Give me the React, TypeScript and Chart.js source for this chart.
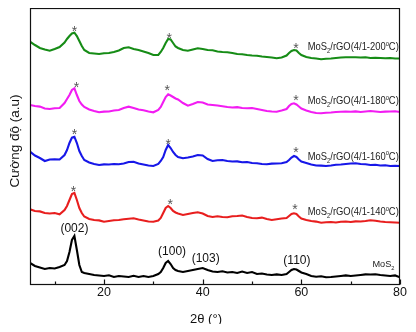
import React, { useEffect, useRef } from "react";
import { Chart, registerables } from "chart.js";
Chart.register(...registerables);

// 2θ positions (degrees)
const X = [5,6,7,8,9,10,11,12,12.5,13,13.5,14,14.5,15,15.5,16,17,18,19,20,21,22,23,24,25,26,27,28,29,30,31,31.5,32,32.5,33,33.5,34,34.5,35,36,37,38,39,40,41,42,43,44,45,46,47,48,49,50,51,52,53,54,55,56,57,57.5,58,58.5,59,59.5,60,61,62,63,64,65,66,67,68,69,70,71,72,73,74,75,76,77,78,79,80];

// Intensities (a.u., stacked with offsets as in the figure)
const MOS2 = [21,18,16.5,15,16,15.5,17,19,23,32,44,48,34,19,12,11,10,9,8.5,8,8.7,7,8,7.5,7,8.2,7,8,7,8,10,12,16,21,23,20,16,14,13,12,13,14,15,16,14,12.5,12,12.7,11.5,12,11,12.5,11,12,10,10.5,9.5,9,9.6,9,10,12,14,15,14.5,13,11.5,10,8,7.3,7.8,6.7,7,7.5,8,8.6,8,8.5,9,9.6,9.5,9.7,9,8.5,8,8.6,6.7];
const T140 = [74.7,73,72.6,71,70.5,71,69.7,74,78,84,90,91,84,76,71,67.5,65,64,63.6,62.3,63,63.8,64,64.7,65.3,65.7,64.5,63.5,62.5,62.3,63.5,66,71,76,78,76,73,71.5,70.5,69,70,71,71.7,70.5,68,67,67.8,67,66.7,67.8,68,68.5,67,66,65.7,66.4,65,64,64.8,65.5,66,68,70,70.7,70,67.5,65.5,64,63,62.4,61.3,61.8,62,61.5,62.3,62.5,62,62.6,62.5,63,63.7,63.3,62.5,62,61.8,61.5,61.3];
const T160 = [132.3,128.5,126,123,124.5,124.7,124.5,129,134,141,146.5,147.3,141,133,128,124,121.5,120,119,119.6,119.5,120,119.7,120.5,122,122.3,120.5,119.5,118.5,118,120,123,127,134,139,136,132,129,127,125.7,126.5,127.5,129,128.5,125,123,123.8,124,123,122.5,122.6,121.7,122,121,120.8,120,119.7,120.4,120.5,120.7,122,124,126.5,128,127,124.5,122.5,121,119.5,118.5,118.4,118,118.5,119.2,119.5,120,120.5,120.7,120,119.7,119,119.3,118.5,118.8,118,118.3,118];
const T180 = [179,178,177.4,175.5,175,175.8,176,181,185,189,194,195.7,189,183,179.5,177,174.5,173,171.7,172.4,172.5,173.5,174,176,177.3,176,174.5,173.8,172.5,171.7,174,177,182,187,189.7,188.5,187,185.5,184.5,181,178.3,180,182,181.5,179.5,179,178.5,177.8,177,176.5,176.9,176,175.7,176,175,174,173,172.5,172.3,173.5,175,178,180,180.7,179.5,177.5,175.5,173.5,172,171,170.7,171.3,171.5,172,172.3,172.5,172.3,172.6,172,172.5,173,172.5,172,172.4,172.5,172.8,172];
const T200 = [242.3,239,236,234.5,233.3,235,237,241.5,245,248,250.5,251.3,248,243,238,234,231,230.5,230,230.8,231,232,233.5,236,236.7,235,234,232.5,231,229,229,232,236,241,245,244.5,241,237.5,236,234,233.3,234.5,235.7,235,234,233.8,232.5,232,231.8,231,230,229.8,229,228.5,228.3,227.5,227,226.5,225.7,226.5,228.5,231,233,234,233.5,231,229,227,226,225.5,224.7,225.3,225.5,226,226.5,226.8,226.7,226.7,226.5,226.8,226,226.3,226,225.7,226,225.5,225.5];

const SERIES = [MOS2, T140, T160, T180, T200];
const COLORS = ["#000000", "#e81e1e", "#1717e8", "#f21cf2", "#168c16"];
const LABEL_TEMPS = ["", "140", "160", "180", "200"];
const LABEL_X = [74.4, 61.3, 61.3, 61.3, 61.3];
const LABEL_Y = [17, 69, 124.5, 180, 234];

const X_TICKS = [10, 20, 30, 40, 50, 60, 70, 80];
const X_LABELED = [20, 40, 60, 80];

const STAR_X = [14.0, 33.2, 58.9, 14.4, 32.8, 58.9, 14.0, 33.0, 58.9, 13.8, 33.4, 58.7];
const STAR_Y = [256, 249, 239, 200, 197, 187, 153, 143, 135, 96, 83, 78];

const PLANES = ["(002)", "(100)", "(103)", "(110)"];
const PLANE_X = [14.0, 33.8, 40.6, 59.1];
const PLANE_Y = [55, 32, 25, 23.7];

const FONT = "'Liberation Sans', Arial, sans-serif";

function drawRich(ctx: CanvasRenderingContext2D, x: number, y: number, parts: [string, string][], size: number, targetWidth: number) {
  let w = 0;
  for (const [t, kind] of parts) {
    const s = kind === "n" ? size : size * 0.62;
    ctx.font = `${s}px ${FONT}`;
    w += ctx.measureText(t).width;
  }
  const k = targetWidth / w;
  ctx.save();
  ctx.translate(x, y);
  ctx.scale(k, 1);
  let cx = 0;
  for (const [t, kind] of parts) {
    const s = kind === "n" ? size : size * 0.62;
    ctx.font = `${s}px ${FONT}`;
    const dy = kind === "sub" ? size * 0.3 : kind === "sup" ? -size * 0.42 : 0;
    ctx.fillText(t, cx, dy);
    cx += ctx.measureText(t).width;
  }
  ctx.restore();
}

const annotPlugin = {
  id: "annot",
  afterDatasetsDraw(chart: any) {
    const { ctx, scales } = chart;
    const xs = scales.x;
    const ys = scales.y;
    ctx.save();
    // stars
    ctx.fillStyle = "#555";
    ctx.textAlign = "center";
    ctx.textBaseline = "alphabetic";
    ctx.font = `14px ${FONT}`;
    for (let i = 0; i < STAR_X.length; i++) {
      ctx.fillText("*", xs.getPixelForValue(STAR_X[i]), ys.getPixelForValue(STAR_Y[i]) + 7.5);
    }
    // planes
    ctx.fillStyle = "#111";
    ctx.textBaseline = "middle";
    ctx.font = `12px ${FONT}`;
    for (let i = 0; i < PLANES.length; i++) {
      ctx.fillText(PLANES[i], xs.getPixelForValue(PLANE_X[i]), ys.getPixelForValue(PLANE_Y[i]));
    }
    // series labels
    ctx.textAlign = "left";
    ctx.textBaseline = "alphabetic";
    ctx.fillStyle = "#222";
    for (let i = 0; i < LABEL_X.length; i++) {
      const px = xs.getPixelForValue(LABEL_X[i]);
      const py = ys.getPixelForValue(LABEL_Y[i]);
      if (i === 0) {
        drawRich(ctx, px, py, [["MoS", "n"], ["2", "sub"]], 9, 22);
      } else {
        drawRich(ctx, px, py, [["MoS", "n"], ["2", "sub"], ["/rGO(4/1-" + LABEL_TEMPS[i], "n"], ["o", "sup"], ["C)", "n"]], 10.5, 91);
      }
    }
    ctx.restore();
  },
  afterDraw(chart: any) {
    const { ctx, chartArea, scales } = chart;
    const xs = scales.x;
    const l = Math.round(chartArea.left) + 0.5;
    const r = Math.round(chartArea.right) - 0.5;
    const t = Math.round(chartArea.top) - 0.5;
    const b = Math.round(chartArea.bottom) + 0.5;
    ctx.save();
    ctx.strokeStyle = "#111";
    ctx.lineWidth = 1.2;
    ctx.strokeRect(l, t, r - l, b - t);
    // inward ticks
    ctx.beginPath();
    for (const v of X_TICKS) {
      const px = Math.round(xs.getPixelForValue(v)) + 0.5;
      const len = X_LABELED.includes(v) ? 5 : 3;
      ctx.moveTo(px, b);
      ctx.lineTo(px, b - len);
    }
    ctx.stroke();
    // axis titles
    ctx.fillStyle = "#111";
    ctx.font = `13px ${FONT}`;
    ctx.textAlign = "center";
    ctx.textBaseline = "middle";
    ctx.fillText("2θ (°)", 198, 311);
    ctx.save();
    ctx.translate(10.5, 133);
    ctx.rotate(-Math.PI / 2);
    ctx.textBaseline = "alphabetic";
    ctx.font = `13.5px ${FONT}`;
    ctx.fillText("Cường độ (a.u)", 0, 0);
    ctx.restore();
    ctx.restore();
  },
};

export default function App() {
  const ref = useRef<HTMLCanvasElement>(null);
  useEffect(() => {
    if (!ref.current) return;
    const chart = new Chart(ref.current, {
      type: "line",
      data: {
        datasets: SERIES.map((s, i) => ({
          data: s.map((v, j) => ({ x: X[j], y: v })),
          borderColor: COLORS[i],
          borderWidth: 2.1,
          pointRadius: 0,
          fill: false,
          tension: 0,
        })),
      },
      options: {
        animation: false,
        responsive: false,
        devicePixelRatio: 1,
        layout: { padding: { top: 1, right: 4, left: 0, bottom: 0 } },
        plugins: { legend: { display: false }, tooltip: { enabled: false } },
        scales: {
          x: {
            type: "linear",
            min: 5,
            max: 80,
            afterBuildTicks: (scale: any) => {
              scale.ticks = X_TICKS.map((v) => ({ value: v }));
            },
            afterFit: (scale: any) => {
              scale.height = 40;
            },
            grid: { display: false, drawTicks: false },
            border: { display: false },
            ticks: {
              padding: 1,
              maxRotation: 0,
              autoSkip: false,
              color: "#111",
              font: { family: FONT, size: 12.5 },
              callback: (v: any) => (X_LABELED.includes(Number(v)) ? String(v) : ""),
            },
          },
          y: {
            min: 0,
            max: 275,
            afterFit: (scale: any) => {
              scale.width = 22;
            },
            grid: { display: false, drawTicks: false },
            border: { display: false },
            ticks: { display: false },
          },
        },
      },
      plugins: [annotPlugin],
    } as any);
    return () => chart.destroy();
  }, []);
  return <canvas ref={ref} width={400} height={316} style={{ display: "block" }} />;
}
